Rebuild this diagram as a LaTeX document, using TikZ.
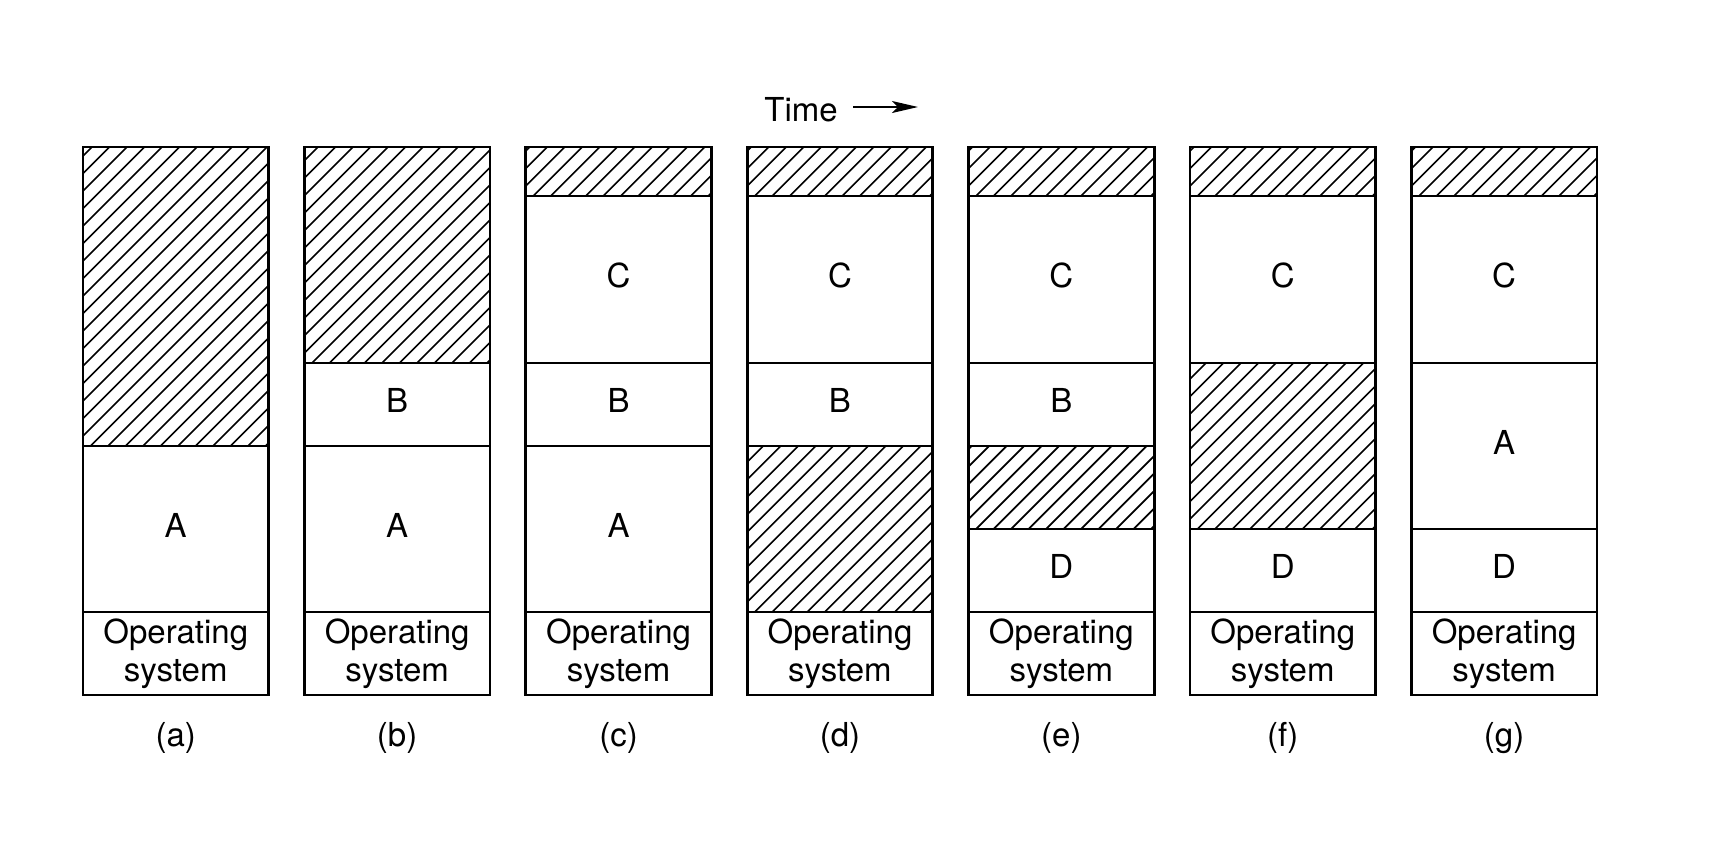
\documentclass[tikz,border=0pt]{standalone}
\usepackage{fontspec}
\setmainfont{TeX Gyre Heros}
\usetikzlibrary{arrows.meta}
\tikzset{seg/.style={draw, line width=1.4pt, minimum width=92.75pt, inner sep=0pt, outer sep=0pt, anchor=north, align=center},
%single letters sit a little high in their boxes
letter/.style={seg, text depth=4pt},
%free (unused) memory is hatched
hole/.style={seg, path picture={
    \foreach \k in {0,...,32}
    \draw[line width=0.8pt] ([xshift=\k*8.75pt-180pt]path picture bounding box.south west) -- ++(200,200);
}},
caption/.style={inner sep=0pt}}

\begin{document}
\begin{tikzpicture}[x=1pt, y=1pt, font=\fontsize{16.5}{19}\selectfont]

    \useasboundingbox (0,0) rectangle (855,-432);

    \foreach \c [count=\i from 0] in {a,b,c,d,e,f,g} {
    \coordinate (top\c) at ({87.875+110.7*\i},-73.5);
    \node[caption] (cap\c) at ({87.875+110.7*\i},-369) {(\c)};
    }

    % (a)
    \node[hole, minimum height=149.5pt] (a1) at (topa) {};
    \node[letter, minimum height=83pt] (a2) at (a1.south) {A};
    \node[seg, minimum height=41.5pt] (a3) at (a2.south) {Operating\\system};

    % (b)
    \node[hole, minimum height=108pt] (b1) at (topb) {};
    \node[letter, minimum height=41.5pt] (b2) at (b1.south) {B};
    \node[letter, minimum height=83pt] (b3) at (b2.south) {A};
    \node[seg, minimum height=41.5pt] (b4) at (b3.south) {Operating\\system};

    % (c)
    \node[hole, minimum height=24.5pt] (c1) at (topc) {};
    \node[letter, minimum height=83.5pt] (c2) at (c1.south) {C};
    \node[letter, minimum height=41.5pt] (c3) at (c2.south) {B};
    \node[letter, minimum height=83pt] (c4) at (c3.south) {A};
    \node[seg, minimum height=41.5pt] (c5) at (c4.south) {Operating\\system};

    % (d)
    \node[hole, minimum height=24.5pt] (d1) at (topd) {};
    \node[letter, minimum height=83.5pt] (d2) at (d1.south) {C};
    \node[letter, minimum height=41.5pt] (d3) at (d2.south) {B};
    \node[hole, minimum height=83pt] (d4) at (d3.south) {};
    \node[seg, minimum height=41.5pt] (d5) at (d4.south) {Operating\\system};

    % (e)
    \node[hole, minimum height=24.5pt] (e1) at (tope) {};
    \node[letter, minimum height=83.5pt] (e2) at (e1.south) {C};
    \node[letter, minimum height=41.5pt] (e3) at (e2.south) {B};
    \node[hole, minimum height=41.5pt] (e4) at (e3.south) {};
    \node[letter, minimum height=41.5pt] (e5) at (e4.south) {D};
    \node[seg, minimum height=41.5pt] (e6) at (e5.south) {Operating\\system};

    % (f)
    \node[hole, minimum height=24.5pt] (f1) at (topf) {};
    \node[letter, minimum height=83.5pt] (f2) at (f1.south) {C};
    \node[hole, minimum height=83pt] (f3) at (f2.south) {};
    \node[letter, minimum height=41.5pt] (f4) at (f3.south) {D};
    \node[seg, minimum height=41.5pt] (f5) at (f4.south) {Operating\\system};

    % (g)
    \node[hole, minimum height=24.5pt] (g1) at (topg) {};
    \node[letter, minimum height=83.5pt] (g2) at (g1.south) {C};
    \node[letter, minimum height=83pt] (g3) at (g2.south) {A};
    \node[letter, minimum height=41.5pt] (g4) at (g3.south) {D};
    \node[seg, minimum height=41.5pt] (g5) at (g4.south) {Operating\\system};

    % time arrow
    \node[caption] (time) at (400.5,-55) {Time};
    \coordinate (tail) at (426.5,-53.5);
    \coordinate (tip) at (459,-53.5);
    \draw[line width=0.7pt, -{Stealth[length=13pt, width=6pt, inset=3pt]}] (tail) -- (tip);

  \end{tikzpicture}
\end{document}
